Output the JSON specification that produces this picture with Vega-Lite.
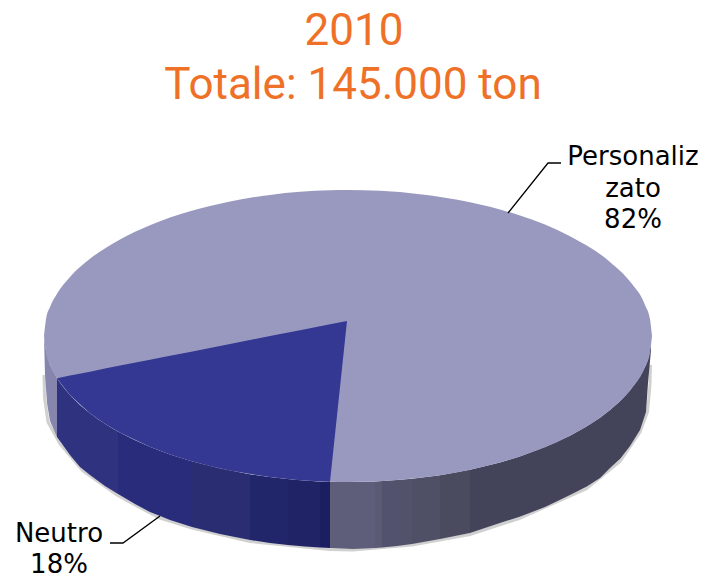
{"$schema":"https://vega.github.io/schema/vega-lite/v6.json","width":706,"height":581,"padding":0,"autosize":{"type":"none"},"background":"white","config":{"view":{"stroke":null}},
"datasets":{
"shadow":[{"x":44,"y":375},{"x":44.5,"y":398},{"x":48,"y":422},{"x":60,"y":444},{"x":83,"y":471},{"x":117,"y":495},{"x":135,"y":505},{"x":160,"y":518},{"x":192,"y":528},{"x":250,"y":541.5},{"x":330,"y":549.5},{"x":353,"y":550},{"x":412,"y":545},{"x":470,"y":534.5},{"x":519,"y":518.5},{"x":586,"y":489},{"x":620,"y":461.5},{"x":640,"y":432},{"x":647.5,"y":412},{"x":650,"y":385},{"x":650.5,"y":365}],
"walls":[
{"part":"a","x":44,"y":336,"y2":336},{"part":"a","x":45,"y":345,"y2":375},{"part":"a","x":47,"y":355.5,"y2":403},{"part":"a","x":50,"y":364.9,"y2":421},{"part":"a","x":57,"y":378.2,"y2":437},
{"part":"b","x":57,"y":378.2,"y2":437},{"part":"b","x":70,"y":395.1,"y2":455},{"part":"b","x":80,"y":405,"y2":467},{"part":"b","x":90,"y":413.2,"y2":475},{"part":"b","x":105,"y":423.7,"y2":486},{"part":"b","x":118,"y":431.5,"y2":494},
{"part":"c","x":118,"y":431.5,"y2":494},{"part":"c","x":135,"y":440,"y2":504},{"part":"c","x":150,"y":446.8,"y2":512},{"part":"c","x":170,"y":454.4,"y2":520},{"part":"c","x":192,"y":461.3,"y2":527},
{"part":"d","x":192,"y":461.3,"y2":527},{"part":"d","x":220,"y":468,"y2":534},{"part":"d","x":250,"y":474.2,"y2":540},
{"part":"e","x":250,"y":474.2,"y2":540},{"part":"e","x":270,"y":477.1,"y2":543},{"part":"e","x":288,"y":479.1,"y2":545},
{"part":"f","x":288,"y":479.1,"y2":545},{"part":"f","x":305,"y":480.5,"y2":546.5},{"part":"f","x":320,"y":481.4,"y2":547.5},
{"part":"g","x":320,"y":481.4,"y2":547.5},{"part":"g","x":330,"y":481.7,"y2":548},
{"part":"h","x":330,"y":481.7,"y2":548},{"part":"h","x":353,"y":482,"y2":549},{"part":"h","x":375,"y":481.4,"y2":548},
{"part":"i","x":375,"y":481.4,"y2":548},{"part":"i","x":382,"y":481.1,"y2":547.5},
{"part":"j","x":382,"y":481.1,"y2":547.5},{"part":"j","x":397,"y":480.1,"y2":546},
{"part":"k","x":397,"y":480.1,"y2":546},{"part":"k","x":412,"y":478.7,"y2":544},
{"part":"l","x":412,"y":478.7,"y2":544},{"part":"l","x":440,"y":475.2,"y2":539},
{"part":"m","x":440,"y":475.2,"y2":539},{"part":"m","x":470,"y":469.7,"y2":533},
{"part":"n","x":470,"y":469.7,"y2":533},{"part":"n","x":500,"y":462.4,"y2":523},{"part":"n","x":519,"y":456.7,"y2":517},{"part":"n","x":545,"y":447,"y2":507},{"part":"n","x":570,"y":435.7,"y2":495},{"part":"n","x":586,"y":426.8,"y2":487},{"part":"n","x":600,"y":417.7,"y2":478},{"part":"n","x":610,"y":410.1,"y2":468},{"part":"n","x":620,"y":401.2,"y2":459},{"part":"n","x":630,"y":390.5,"y2":446},{"part":"n","x":640,"y":376.6,"y2":430},{"part":"n","x":646,"y":364.9,"y2":412},{"part":"n","x":648,"y":359.6,"y2":383},{"part":"n","x":651,"y":345,"y2":350}],
"top":[{"x":44,"y":336,"y2":336},{"x":46,"y":319.3,"y2":352.7},{"x":50,"y":307.1,"y2":364.9},{"x":57,"y":293.8,"y2":378.2},{"x":70,"y":276.9,"y2":395.1},{"x":90,"y":258.8,"y2":413.2},{"x":120,"y":239.4,"y2":432.6},{"x":150,"y":225.2,"y2":446.8},{"x":190,"y":211.3,"y2":460.7},{"x":230,"y":201.5,"y2":470.5},{"x":270,"y":194.9,"y2":477.1},{"x":300,"y":191.8,"y2":480.2},{"x":330,"y":190.3,"y2":481.7},{"x":348,"y":190,"y2":482},{"x":380,"y":190.8,"y2":481.2},{"x":420,"y":194.2,"y2":477.8},{"x":470,"y":202.3,"y2":469.7},{"x":520,"y":215.6,"y2":456.4},{"x":570,"y":236.3,"y2":435.7},{"x":610,"y":261.9,"y2":410.1},{"x":630,"y":281.5,"y2":390.5},{"x":645,"y":304.9,"y2":367.1},{"x":650,"y":319.3,"y2":352.7},{"x":652,"y":336,"y2":336}],
"wedge":[{"x":57,"y":378.2,"y2":378.2},{"x":70,"y":375.6,"y2":395.1},{"x":90,"y":371.7,"y2":413.2},{"x":105,"y":368.6,"y2":423.7},{"x":120,"y":365.6,"y2":432.6},{"x":150,"y":359.7,"y2":446.8},{"x":170,"y":355.8,"y2":454.4},{"x":190,"y":351.9,"y2":460.7},{"x":210,"y":347.9,"y2":466.1},{"x":230,"y":344,"y2":470.5},{"x":270,"y":336.1,"y2":477.1},{"x":300,"y":330.2,"y2":480.2},{"x":330,"y":324.3,"y2":481.7},{"x":347,"y":321,"y2":321}],
"leaders":[{"k":"p","x":508,"y":213},{"k":"p","x":548,"y":163},{"k":"p","x":561,"y":163},{"k":"n","x":110,"y":543},{"k":"n","x":123,"y":543},{"k":"n","x":160,"y":516}],
"labels":[{"t":"Personaliz","x":633,"y":165},{"t":"zato","x":633,"y":197},{"t":"82%","x":633,"y":228},{"t":"Neutro","x":59,"y":542},{"t":"18%","x":59,"y":573}],
"titles":[{"t":"2010","x":354,"y":45},{"t":"Totale: 145.000 ton","x":353,"y":99}]
},
"encoding":{
"x":{"field":"x","type":"quantitative","axis":null,"scale":{"domain":[0,706],"nice":false,"zero":false}},
"y":{"field":"y","type":"quantitative","axis":null,"scale":{"domain":[581,0],"nice":false,"zero":false}}
},
"layer":[
{"data":{"name":"shadow"},"mark":{"type":"line","stroke":"#8a8a8a","strokeWidth":3,"opacity":0.4,"interpolate":"linear"},"encoding":{}},
{"data":{"name":"walls"},"mark":{"type":"area","interpolate":"linear"},"encoding":{"y2":{"field":"y2"},"color":{"field":"part","type":"nominal","legend":null,"scale":{"domain":["a","b","c","d","e","f","g","h","i","j","k","l","m","n"],"range":["#8585ad","#2e327f","#282c7a","#2a2d72","#21256a","#202365","#1b1e60","#5e5e7b","#5a5a72","#52526f","#52526a","#4f4f66","#4b4b5f","#434359"]}}}},
{"data":{"name":"top"},"mark":{"type":"area","interpolate":"monotone","color":"#9999c0"},"encoding":{"y2":{"field":"y2"}}},
{"data":{"name":"wedge"},"mark":{"type":"area","interpolate":"linear","color":"#343892"},"encoding":{"y2":{"field":"y2"}}},
{"data":{"name":"leaders"},"mark":{"type":"line","stroke":"black","strokeWidth":1.3},"encoding":{"detail":{"field":"k"}}},
{"data":{"name":"labels"},"mark":{"type":"text","font":"DejaVu Sans","fontSize":26,"align":"center","baseline":"alphabetic","color":"black"},"encoding":{"text":{"field":"t"}}},
{"data":{"name":"titles"},"mark":{"type":"text","font":"Roboto","fontSize":44,"align":"center","baseline":"alphabetic","color":"#ee7127"},"encoding":{"text":{"field":"t"}}}
]}
